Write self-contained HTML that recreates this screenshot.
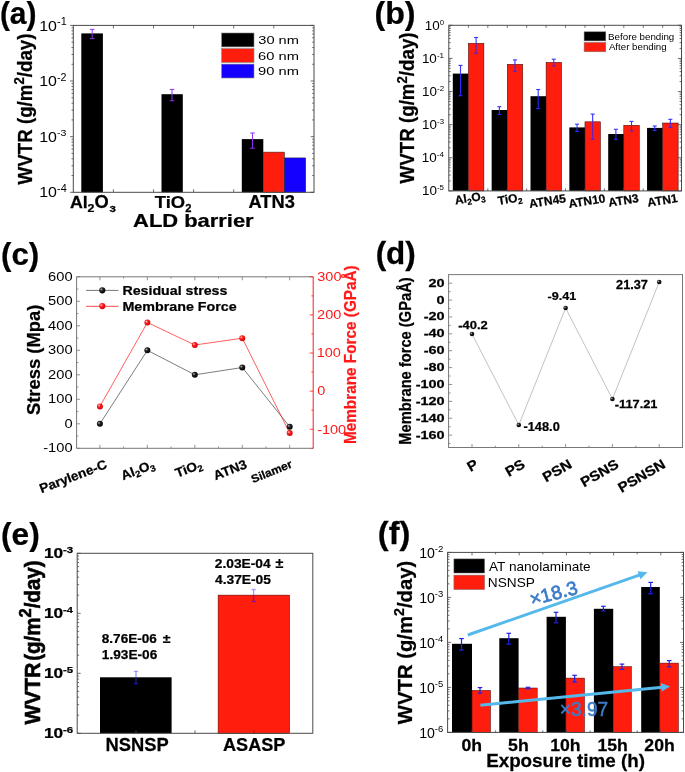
<!DOCTYPE html><html><head><meta charset="utf-8"><style>html,body{margin:0;padding:0;background:#fff}svg{display:block;will-change:transform}text{font-family:"Liberation Sans",sans-serif}</style></head><body>
<svg width="685" height="772" viewBox="0 0 685 772">
<defs><radialGradient id="gk" cx="35%" cy="35%" r="70%"><stop offset="0" stop-color="#bbb"/><stop offset="0.35" stop-color="#222"/><stop offset="1" stop-color="#000"/></radialGradient><radialGradient id="gr" cx="35%" cy="35%" r="70%"><stop offset="0" stop-color="#fcc"/><stop offset="0.35" stop-color="#f22"/><stop offset="1" stop-color="#c00"/></radialGradient></defs>
<rect width="685" height="772" fill="#fff"/>
<rect x="81.3" y="33.4" width="21.6" height="158.9" fill="#000"/>
<rect x="161.5" y="94.2" width="21.3" height="98.1" fill="#000"/>
<rect x="241.8" y="139.1" width="21.5" height="53.2" fill="#000"/>
<rect x="263.3" y="152.1" width="21.2" height="40.2" fill="#ff1e0e" stroke="#222" stroke-width="0.5"/>
<rect x="284.5" y="157.9" width="21.2" height="34.4" fill="#1400ff" stroke="#222" stroke-width="0.5"/>
<line x1="92.2" y1="29.4" x2="92.2" y2="38.6" stroke="#9130f0" stroke-width="1"/>
<line x1="89.9" y1="29.4" x2="94.5" y2="29.4" stroke="#9130f0" stroke-width="1"/>
<line x1="89.9" y1="38.6" x2="94.5" y2="38.6" stroke="#9130f0" stroke-width="1"/>
<line x1="172" y1="89.4" x2="172" y2="100.7" stroke="#9130f0" stroke-width="1"/>
<line x1="169.7" y1="89.4" x2="174.3" y2="89.4" stroke="#9130f0" stroke-width="1"/>
<line x1="169.7" y1="100.7" x2="174.3" y2="100.7" stroke="#9130f0" stroke-width="1"/>
<line x1="252.5" y1="133" x2="252.5" y2="148.2" stroke="#9130f0" stroke-width="1"/>
<line x1="250.2" y1="133" x2="254.8" y2="133" stroke="#9130f0" stroke-width="1"/>
<line x1="250.2" y1="148.2" x2="254.8" y2="148.2" stroke="#9130f0" stroke-width="1"/>
<rect x="73.3" y="25.4" width="240.7" height="166.9" fill="none" stroke="#4a4a4a" stroke-width="1"/>
<line x1="73.3" y1="25.4" x2="70" y2="25.4" stroke="#4a4a4a" stroke-width="0.8"/>
<line x1="73.3" y1="64.29" x2="71.5" y2="64.29" stroke="#4a4a4a" stroke-width="0.8"/>
<line x1="73.3" y1="54.49" x2="71.5" y2="54.49" stroke="#4a4a4a" stroke-width="0.8"/>
<line x1="73.3" y1="47.54" x2="71.5" y2="47.54" stroke="#4a4a4a" stroke-width="0.8"/>
<line x1="73.3" y1="42.15" x2="71.5" y2="42.15" stroke="#4a4a4a" stroke-width="0.8"/>
<line x1="73.3" y1="37.74" x2="71.5" y2="37.74" stroke="#4a4a4a" stroke-width="0.8"/>
<line x1="73.3" y1="34.02" x2="71.5" y2="34.02" stroke="#4a4a4a" stroke-width="0.8"/>
<line x1="73.3" y1="30.79" x2="71.5" y2="30.79" stroke="#4a4a4a" stroke-width="0.8"/>
<line x1="73.3" y1="27.95" x2="71.5" y2="27.95" stroke="#4a4a4a" stroke-width="0.8"/>
<line x1="73.3" y1="81.03" x2="70" y2="81.03" stroke="#4a4a4a" stroke-width="0.8"/>
<line x1="73.3" y1="119.92" x2="71.5" y2="119.92" stroke="#4a4a4a" stroke-width="0.8"/>
<line x1="73.3" y1="110.12" x2="71.5" y2="110.12" stroke="#4a4a4a" stroke-width="0.8"/>
<line x1="73.3" y1="103.17" x2="71.5" y2="103.17" stroke="#4a4a4a" stroke-width="0.8"/>
<line x1="73.3" y1="97.78" x2="71.5" y2="97.78" stroke="#4a4a4a" stroke-width="0.8"/>
<line x1="73.3" y1="93.38" x2="71.5" y2="93.38" stroke="#4a4a4a" stroke-width="0.8"/>
<line x1="73.3" y1="89.65" x2="71.5" y2="89.65" stroke="#4a4a4a" stroke-width="0.8"/>
<line x1="73.3" y1="86.42" x2="71.5" y2="86.42" stroke="#4a4a4a" stroke-width="0.8"/>
<line x1="73.3" y1="83.58" x2="71.5" y2="83.58" stroke="#4a4a4a" stroke-width="0.8"/>
<line x1="73.3" y1="136.67" x2="70" y2="136.67" stroke="#4a4a4a" stroke-width="0.8"/>
<line x1="73.3" y1="175.55" x2="71.5" y2="175.55" stroke="#4a4a4a" stroke-width="0.8"/>
<line x1="73.3" y1="165.76" x2="71.5" y2="165.76" stroke="#4a4a4a" stroke-width="0.8"/>
<line x1="73.3" y1="158.81" x2="71.5" y2="158.81" stroke="#4a4a4a" stroke-width="0.8"/>
<line x1="73.3" y1="153.41" x2="71.5" y2="153.41" stroke="#4a4a4a" stroke-width="0.8"/>
<line x1="73.3" y1="149.01" x2="71.5" y2="149.01" stroke="#4a4a4a" stroke-width="0.8"/>
<line x1="73.3" y1="145.28" x2="71.5" y2="145.28" stroke="#4a4a4a" stroke-width="0.8"/>
<line x1="73.3" y1="142.06" x2="71.5" y2="142.06" stroke="#4a4a4a" stroke-width="0.8"/>
<line x1="73.3" y1="139.21" x2="71.5" y2="139.21" stroke="#4a4a4a" stroke-width="0.8"/>
<line x1="73.3" y1="192.3" x2="70" y2="192.3" stroke="#4a4a4a" stroke-width="0.8"/>
<line x1="314" y1="25.4" x2="310.7" y2="25.4" stroke="#4a4a4a" stroke-width="0.8"/>
<line x1="314" y1="64.29" x2="312.2" y2="64.29" stroke="#4a4a4a" stroke-width="0.8"/>
<line x1="314" y1="54.49" x2="312.2" y2="54.49" stroke="#4a4a4a" stroke-width="0.8"/>
<line x1="314" y1="47.54" x2="312.2" y2="47.54" stroke="#4a4a4a" stroke-width="0.8"/>
<line x1="314" y1="42.15" x2="312.2" y2="42.15" stroke="#4a4a4a" stroke-width="0.8"/>
<line x1="314" y1="37.74" x2="312.2" y2="37.74" stroke="#4a4a4a" stroke-width="0.8"/>
<line x1="314" y1="34.02" x2="312.2" y2="34.02" stroke="#4a4a4a" stroke-width="0.8"/>
<line x1="314" y1="30.79" x2="312.2" y2="30.79" stroke="#4a4a4a" stroke-width="0.8"/>
<line x1="314" y1="27.95" x2="312.2" y2="27.95" stroke="#4a4a4a" stroke-width="0.8"/>
<line x1="314" y1="81.03" x2="310.7" y2="81.03" stroke="#4a4a4a" stroke-width="0.8"/>
<line x1="314" y1="119.92" x2="312.2" y2="119.92" stroke="#4a4a4a" stroke-width="0.8"/>
<line x1="314" y1="110.12" x2="312.2" y2="110.12" stroke="#4a4a4a" stroke-width="0.8"/>
<line x1="314" y1="103.17" x2="312.2" y2="103.17" stroke="#4a4a4a" stroke-width="0.8"/>
<line x1="314" y1="97.78" x2="312.2" y2="97.78" stroke="#4a4a4a" stroke-width="0.8"/>
<line x1="314" y1="93.38" x2="312.2" y2="93.38" stroke="#4a4a4a" stroke-width="0.8"/>
<line x1="314" y1="89.65" x2="312.2" y2="89.65" stroke="#4a4a4a" stroke-width="0.8"/>
<line x1="314" y1="86.42" x2="312.2" y2="86.42" stroke="#4a4a4a" stroke-width="0.8"/>
<line x1="314" y1="83.58" x2="312.2" y2="83.58" stroke="#4a4a4a" stroke-width="0.8"/>
<line x1="314" y1="136.67" x2="310.7" y2="136.67" stroke="#4a4a4a" stroke-width="0.8"/>
<line x1="314" y1="175.55" x2="312.2" y2="175.55" stroke="#4a4a4a" stroke-width="0.8"/>
<line x1="314" y1="165.76" x2="312.2" y2="165.76" stroke="#4a4a4a" stroke-width="0.8"/>
<line x1="314" y1="158.81" x2="312.2" y2="158.81" stroke="#4a4a4a" stroke-width="0.8"/>
<line x1="314" y1="153.41" x2="312.2" y2="153.41" stroke="#4a4a4a" stroke-width="0.8"/>
<line x1="314" y1="149.01" x2="312.2" y2="149.01" stroke="#4a4a4a" stroke-width="0.8"/>
<line x1="314" y1="145.28" x2="312.2" y2="145.28" stroke="#4a4a4a" stroke-width="0.8"/>
<line x1="314" y1="142.06" x2="312.2" y2="142.06" stroke="#4a4a4a" stroke-width="0.8"/>
<line x1="314" y1="139.21" x2="312.2" y2="139.21" stroke="#4a4a4a" stroke-width="0.8"/>
<line x1="314" y1="192.3" x2="310.7" y2="192.3" stroke="#4a4a4a" stroke-width="0.8"/>
<line x1="113.4" y1="192.3" x2="113.4" y2="189.3" stroke="#4a4a4a" stroke-width="0.8"/>
<line x1="113.4" y1="25.4" x2="113.4" y2="28.4" stroke="#4a4a4a" stroke-width="0.8"/>
<line x1="153.5" y1="192.3" x2="153.5" y2="189.3" stroke="#4a4a4a" stroke-width="0.8"/>
<line x1="153.5" y1="25.4" x2="153.5" y2="28.4" stroke="#4a4a4a" stroke-width="0.8"/>
<line x1="193.6" y1="192.3" x2="193.6" y2="189.3" stroke="#4a4a4a" stroke-width="0.8"/>
<line x1="193.6" y1="25.4" x2="193.6" y2="28.4" stroke="#4a4a4a" stroke-width="0.8"/>
<line x1="233.7" y1="192.3" x2="233.7" y2="189.3" stroke="#4a4a4a" stroke-width="0.8"/>
<line x1="233.7" y1="25.4" x2="233.7" y2="28.4" stroke="#4a4a4a" stroke-width="0.8"/>
<line x1="273.8" y1="192.3" x2="273.8" y2="189.3" stroke="#4a4a4a" stroke-width="0.8"/>
<line x1="273.8" y1="25.4" x2="273.8" y2="28.4" stroke="#4a4a4a" stroke-width="0.8"/>
<rect x="221.6" y="33" width="32.4" height="13.9" fill="#000" stroke="#888" stroke-width="0.6"/>
<text transform="translate(258.25 44.28) scale(1.2480 1)" font-size="11.73">30 nm</text>
<rect x="221.6" y="48.55" width="32.4" height="13.9" fill="#ff1e0e" stroke="#888" stroke-width="0.6"/>
<text transform="translate(258.06 59.83) scale(1.2538 1)" font-size="11.73">60 nm</text>
<rect x="221.6" y="64.1" width="32.4" height="13.9" fill="#1400ff" stroke="#888" stroke-width="0.6"/>
<text transform="translate(258.1 75.38) scale(1.2527 1)" font-size="11.73">90 nm</text>
<text transform="translate(39.2 30.55) scale(1.0740 1)" font-size="14.84">10</text>
<text transform="translate(57.01 25.2) scale(1.0740 1)" font-size="10.18">-1</text>
<text transform="translate(39.2 86.18) scale(1.0740 1)" font-size="14.84">10</text>
<text transform="translate(57.01 80.83) scale(1.0740 1)" font-size="10.04">-2</text>
<text transform="translate(39.2 141.82) scale(1.0740 1)" font-size="14.84">10</text>
<text transform="translate(57.02 136.37) scale(1.0740 1)" font-size="9.89">-3</text>
<text transform="translate(39.2 197.45) scale(1.0740 1)" font-size="14.84">10</text>
<text transform="translate(57.01 192.1) scale(1.0740 1)" font-size="10.18">-4</text>
<text transform="translate(69.96 207.8) scale(1.0318 1)" font-size="17.24" font-weight="bold" stroke="#000" stroke-width="0.25">Al</text>
<text transform="translate(87.46 212) scale(1.2391 1)" font-size="10.04" font-weight="bold" stroke="#000" stroke-width="0.25">2</text>
<text transform="translate(94.47 208.01) scale(0.9869 1)" font-size="18.52" font-weight="bold" stroke="#000" stroke-width="0.25">O</text>
<text transform="translate(109.44 211.88) scale(1.1621 1)" font-size="9.86" font-weight="bold" stroke="#000" stroke-width="0.25">3</text>
<text transform="translate(154.82 207.73) scale(1.0548 1)" font-size="17.41" font-weight="bold" stroke="#000" stroke-width="0.25">TiO</text>
<text transform="translate(185.21 212.4) scale(0.9637 1)" font-size="11.61" font-weight="bold" stroke="#000" stroke-width="0.25">2</text>
<text transform="translate(248.54 207.87) scale(0.9974 1)" font-size="18.31" font-weight="bold" stroke="#000" stroke-width="0.25">ATN3</text>
<text transform="translate(133.05 226.92) scale(1.1930 1)" font-size="18.37" font-weight="bold" stroke="#000" stroke-width="0.25">ALD barrier</text>
<text transform="translate(-0.1 24.31) scale(0.9726 1)" font-size="30.78" font-weight="bold" stroke="#000" stroke-width="0.25">(a)</text>
<text transform="translate(32 184.5) rotate(-90) scale(0.9410 1)" font-size="19.93" font-weight="bold" stroke="#000" stroke-width="0.25">WVTR (g/m<tspan font-size="70%" dy="-7.57">2</tspan><tspan dy="7.57">/day)</tspan></text>
<rect x="452.8" y="73.6" width="15.6" height="117.3" fill="#000"/>
<rect x="468.4" y="43.3" width="15.5" height="147.6" fill="#ff1e0e" stroke="#300" stroke-width="0.5"/>
<rect x="491.65" y="110" width="15.6" height="80.9" fill="#000"/>
<rect x="507.25" y="64.3" width="15.5" height="126.6" fill="#ff1e0e" stroke="#300" stroke-width="0.5"/>
<rect x="530.5" y="96.2" width="15.6" height="94.7" fill="#000"/>
<rect x="546.1" y="62.4" width="15.5" height="128.5" fill="#ff1e0e" stroke="#300" stroke-width="0.5"/>
<rect x="569.35" y="127.4" width="15.6" height="63.5" fill="#000"/>
<rect x="584.95" y="121.8" width="15.5" height="69.1" fill="#ff1e0e" stroke="#300" stroke-width="0.5"/>
<rect x="608.2" y="134" width="15.6" height="56.9" fill="#000"/>
<rect x="623.8" y="125.3" width="15.5" height="65.6" fill="#ff1e0e" stroke="#300" stroke-width="0.5"/>
<rect x="647.05" y="127.9" width="15.6" height="63" fill="#000"/>
<rect x="662.65" y="123" width="15.5" height="67.9" fill="#ff1e0e" stroke="#300" stroke-width="0.5"/>
<line x1="460.5" y1="65.4" x2="460.5" y2="73.6" stroke="#3232ff" stroke-width="1.1"/>
<line x1="458.5" y1="65.4" x2="462.5" y2="65.4" stroke="#3232ff" stroke-width="1.1"/>
<line x1="460.5" y1="73.6" x2="460.5" y2="95.7" stroke="#2a2aff" stroke-width="1.1"/>
<line x1="458.5" y1="95.7" x2="462.5" y2="95.7" stroke="#2a2aff" stroke-width="1.1"/>
<line x1="476.1" y1="37.5" x2="476.1" y2="43.3" stroke="#3232ff" stroke-width="1.1"/>
<line x1="474.1" y1="37.5" x2="478.1" y2="37.5" stroke="#3232ff" stroke-width="1.1"/>
<line x1="476.1" y1="43.3" x2="476.1" y2="53.3" stroke="#5a22cc" stroke-width="1.1"/>
<line x1="474.1" y1="53.3" x2="478.1" y2="53.3" stroke="#5a22cc" stroke-width="1.1"/>
<line x1="499.35" y1="106.7" x2="499.35" y2="110" stroke="#3232ff" stroke-width="1.1"/>
<line x1="497.35" y1="106.7" x2="501.35" y2="106.7" stroke="#3232ff" stroke-width="1.1"/>
<line x1="499.35" y1="110" x2="499.35" y2="114.4" stroke="#2a2aff" stroke-width="1.1"/>
<line x1="497.35" y1="114.4" x2="501.35" y2="114.4" stroke="#2a2aff" stroke-width="1.1"/>
<line x1="514.95" y1="59.9" x2="514.95" y2="64.3" stroke="#3232ff" stroke-width="1.1"/>
<line x1="512.95" y1="59.9" x2="516.95" y2="59.9" stroke="#3232ff" stroke-width="1.1"/>
<line x1="514.95" y1="64.3" x2="514.95" y2="71.3" stroke="#5a22cc" stroke-width="1.1"/>
<line x1="512.95" y1="71.3" x2="516.95" y2="71.3" stroke="#5a22cc" stroke-width="1.1"/>
<line x1="538.2" y1="89.5" x2="538.2" y2="96.2" stroke="#3232ff" stroke-width="1.1"/>
<line x1="536.2" y1="89.5" x2="540.2" y2="89.5" stroke="#3232ff" stroke-width="1.1"/>
<line x1="538.2" y1="96.2" x2="538.2" y2="108.6" stroke="#2a2aff" stroke-width="1.1"/>
<line x1="536.2" y1="108.6" x2="540.2" y2="108.6" stroke="#2a2aff" stroke-width="1.1"/>
<line x1="553.8" y1="59.2" x2="553.8" y2="62.4" stroke="#3232ff" stroke-width="1.1"/>
<line x1="551.8" y1="59.2" x2="555.8" y2="59.2" stroke="#3232ff" stroke-width="1.1"/>
<line x1="553.8" y1="62.4" x2="553.8" y2="65.9" stroke="#5a22cc" stroke-width="1.1"/>
<line x1="551.8" y1="65.9" x2="555.8" y2="65.9" stroke="#5a22cc" stroke-width="1.1"/>
<line x1="577.05" y1="124.2" x2="577.05" y2="127.4" stroke="#3232ff" stroke-width="1.1"/>
<line x1="575.05" y1="124.2" x2="579.05" y2="124.2" stroke="#3232ff" stroke-width="1.1"/>
<line x1="577.05" y1="127.4" x2="577.05" y2="131.4" stroke="#2a2aff" stroke-width="1.1"/>
<line x1="575.05" y1="131.4" x2="579.05" y2="131.4" stroke="#2a2aff" stroke-width="1.1"/>
<line x1="592.65" y1="114.1" x2="592.65" y2="121.8" stroke="#3232ff" stroke-width="1.1"/>
<line x1="590.65" y1="114.1" x2="594.65" y2="114.1" stroke="#3232ff" stroke-width="1.1"/>
<line x1="592.65" y1="121.8" x2="592.65" y2="139.3" stroke="#5a22cc" stroke-width="1.1"/>
<line x1="590.65" y1="139.3" x2="594.65" y2="139.3" stroke="#5a22cc" stroke-width="1.1"/>
<line x1="615.9" y1="129.3" x2="615.9" y2="134" stroke="#3232ff" stroke-width="1.1"/>
<line x1="613.9" y1="129.3" x2="617.9" y2="129.3" stroke="#3232ff" stroke-width="1.1"/>
<line x1="615.9" y1="134" x2="615.9" y2="139.3" stroke="#2a2aff" stroke-width="1.1"/>
<line x1="613.9" y1="139.3" x2="617.9" y2="139.3" stroke="#2a2aff" stroke-width="1.1"/>
<line x1="631.5" y1="121.4" x2="631.5" y2="125.3" stroke="#3232ff" stroke-width="1.1"/>
<line x1="629.5" y1="121.4" x2="633.5" y2="121.4" stroke="#3232ff" stroke-width="1.1"/>
<line x1="631.5" y1="125.3" x2="631.5" y2="130.9" stroke="#5a22cc" stroke-width="1.1"/>
<line x1="629.5" y1="130.9" x2="633.5" y2="130.9" stroke="#5a22cc" stroke-width="1.1"/>
<line x1="654.75" y1="126" x2="654.75" y2="127.9" stroke="#3232ff" stroke-width="1.1"/>
<line x1="652.75" y1="126" x2="656.75" y2="126" stroke="#3232ff" stroke-width="1.1"/>
<line x1="654.75" y1="127.9" x2="654.75" y2="130.4" stroke="#2a2aff" stroke-width="1.1"/>
<line x1="652.75" y1="130.4" x2="656.75" y2="130.4" stroke="#2a2aff" stroke-width="1.1"/>
<line x1="670.35" y1="119.3" x2="670.35" y2="123" stroke="#3232ff" stroke-width="1.1"/>
<line x1="668.35" y1="119.3" x2="672.35" y2="119.3" stroke="#3232ff" stroke-width="1.1"/>
<line x1="670.35" y1="123" x2="670.35" y2="127.4" stroke="#5a22cc" stroke-width="1.1"/>
<line x1="668.35" y1="127.4" x2="672.35" y2="127.4" stroke="#5a22cc" stroke-width="1.1"/>
<rect x="448.8" y="25.3" width="232.7" height="165.6" fill="none" stroke="#4a4a4a" stroke-width="1"/>
<line x1="448.8" y1="25.3" x2="452.4" y2="25.3" stroke="#4a4a4a" stroke-width="0.8"/>
<line x1="448.8" y1="48.45" x2="450.7" y2="48.45" stroke="#4a4a4a" stroke-width="0.8"/>
<line x1="448.8" y1="42.62" x2="450.7" y2="42.62" stroke="#4a4a4a" stroke-width="0.8"/>
<line x1="448.8" y1="38.48" x2="450.7" y2="38.48" stroke="#4a4a4a" stroke-width="0.8"/>
<line x1="448.8" y1="35.27" x2="450.7" y2="35.27" stroke="#4a4a4a" stroke-width="0.8"/>
<line x1="448.8" y1="32.65" x2="450.7" y2="32.65" stroke="#4a4a4a" stroke-width="0.8"/>
<line x1="448.8" y1="30.43" x2="450.7" y2="30.43" stroke="#4a4a4a" stroke-width="0.8"/>
<line x1="448.8" y1="28.51" x2="450.7" y2="28.51" stroke="#4a4a4a" stroke-width="0.8"/>
<line x1="448.8" y1="26.82" x2="450.7" y2="26.82" stroke="#4a4a4a" stroke-width="0.8"/>
<line x1="448.8" y1="58.42" x2="452.4" y2="58.42" stroke="#4a4a4a" stroke-width="0.8"/>
<line x1="448.8" y1="81.57" x2="450.7" y2="81.57" stroke="#4a4a4a" stroke-width="0.8"/>
<line x1="448.8" y1="75.74" x2="450.7" y2="75.74" stroke="#4a4a4a" stroke-width="0.8"/>
<line x1="448.8" y1="71.6" x2="450.7" y2="71.6" stroke="#4a4a4a" stroke-width="0.8"/>
<line x1="448.8" y1="68.39" x2="450.7" y2="68.39" stroke="#4a4a4a" stroke-width="0.8"/>
<line x1="448.8" y1="65.77" x2="450.7" y2="65.77" stroke="#4a4a4a" stroke-width="0.8"/>
<line x1="448.8" y1="63.55" x2="450.7" y2="63.55" stroke="#4a4a4a" stroke-width="0.8"/>
<line x1="448.8" y1="61.63" x2="450.7" y2="61.63" stroke="#4a4a4a" stroke-width="0.8"/>
<line x1="448.8" y1="59.94" x2="450.7" y2="59.94" stroke="#4a4a4a" stroke-width="0.8"/>
<line x1="448.8" y1="91.54" x2="452.4" y2="91.54" stroke="#4a4a4a" stroke-width="0.8"/>
<line x1="448.8" y1="114.69" x2="450.7" y2="114.69" stroke="#4a4a4a" stroke-width="0.8"/>
<line x1="448.8" y1="108.86" x2="450.7" y2="108.86" stroke="#4a4a4a" stroke-width="0.8"/>
<line x1="448.8" y1="104.72" x2="450.7" y2="104.72" stroke="#4a4a4a" stroke-width="0.8"/>
<line x1="448.8" y1="101.51" x2="450.7" y2="101.51" stroke="#4a4a4a" stroke-width="0.8"/>
<line x1="448.8" y1="98.89" x2="450.7" y2="98.89" stroke="#4a4a4a" stroke-width="0.8"/>
<line x1="448.8" y1="96.67" x2="450.7" y2="96.67" stroke="#4a4a4a" stroke-width="0.8"/>
<line x1="448.8" y1="94.75" x2="450.7" y2="94.75" stroke="#4a4a4a" stroke-width="0.8"/>
<line x1="448.8" y1="93.06" x2="450.7" y2="93.06" stroke="#4a4a4a" stroke-width="0.8"/>
<line x1="448.8" y1="124.66" x2="452.4" y2="124.66" stroke="#4a4a4a" stroke-width="0.8"/>
<line x1="448.8" y1="147.81" x2="450.7" y2="147.81" stroke="#4a4a4a" stroke-width="0.8"/>
<line x1="448.8" y1="141.98" x2="450.7" y2="141.98" stroke="#4a4a4a" stroke-width="0.8"/>
<line x1="448.8" y1="137.84" x2="450.7" y2="137.84" stroke="#4a4a4a" stroke-width="0.8"/>
<line x1="448.8" y1="134.63" x2="450.7" y2="134.63" stroke="#4a4a4a" stroke-width="0.8"/>
<line x1="448.8" y1="132.01" x2="450.7" y2="132.01" stroke="#4a4a4a" stroke-width="0.8"/>
<line x1="448.8" y1="129.79" x2="450.7" y2="129.79" stroke="#4a4a4a" stroke-width="0.8"/>
<line x1="448.8" y1="127.87" x2="450.7" y2="127.87" stroke="#4a4a4a" stroke-width="0.8"/>
<line x1="448.8" y1="126.18" x2="450.7" y2="126.18" stroke="#4a4a4a" stroke-width="0.8"/>
<line x1="448.8" y1="157.78" x2="452.4" y2="157.78" stroke="#4a4a4a" stroke-width="0.8"/>
<line x1="448.8" y1="180.93" x2="450.7" y2="180.93" stroke="#4a4a4a" stroke-width="0.8"/>
<line x1="448.8" y1="175.1" x2="450.7" y2="175.1" stroke="#4a4a4a" stroke-width="0.8"/>
<line x1="448.8" y1="170.96" x2="450.7" y2="170.96" stroke="#4a4a4a" stroke-width="0.8"/>
<line x1="448.8" y1="167.75" x2="450.7" y2="167.75" stroke="#4a4a4a" stroke-width="0.8"/>
<line x1="448.8" y1="165.13" x2="450.7" y2="165.13" stroke="#4a4a4a" stroke-width="0.8"/>
<line x1="448.8" y1="162.91" x2="450.7" y2="162.91" stroke="#4a4a4a" stroke-width="0.8"/>
<line x1="448.8" y1="160.99" x2="450.7" y2="160.99" stroke="#4a4a4a" stroke-width="0.8"/>
<line x1="448.8" y1="159.3" x2="450.7" y2="159.3" stroke="#4a4a4a" stroke-width="0.8"/>
<line x1="448.8" y1="190.9" x2="452.4" y2="190.9" stroke="#4a4a4a" stroke-width="0.8"/>
<line x1="681.5" y1="25.3" x2="677.9" y2="25.3" stroke="#4a4a4a" stroke-width="0.8"/>
<line x1="681.5" y1="48.45" x2="679.6" y2="48.45" stroke="#4a4a4a" stroke-width="0.8"/>
<line x1="681.5" y1="42.62" x2="679.6" y2="42.62" stroke="#4a4a4a" stroke-width="0.8"/>
<line x1="681.5" y1="38.48" x2="679.6" y2="38.48" stroke="#4a4a4a" stroke-width="0.8"/>
<line x1="681.5" y1="35.27" x2="679.6" y2="35.27" stroke="#4a4a4a" stroke-width="0.8"/>
<line x1="681.5" y1="32.65" x2="679.6" y2="32.65" stroke="#4a4a4a" stroke-width="0.8"/>
<line x1="681.5" y1="30.43" x2="679.6" y2="30.43" stroke="#4a4a4a" stroke-width="0.8"/>
<line x1="681.5" y1="28.51" x2="679.6" y2="28.51" stroke="#4a4a4a" stroke-width="0.8"/>
<line x1="681.5" y1="26.82" x2="679.6" y2="26.82" stroke="#4a4a4a" stroke-width="0.8"/>
<line x1="681.5" y1="58.42" x2="677.9" y2="58.42" stroke="#4a4a4a" stroke-width="0.8"/>
<line x1="681.5" y1="81.57" x2="679.6" y2="81.57" stroke="#4a4a4a" stroke-width="0.8"/>
<line x1="681.5" y1="75.74" x2="679.6" y2="75.74" stroke="#4a4a4a" stroke-width="0.8"/>
<line x1="681.5" y1="71.6" x2="679.6" y2="71.6" stroke="#4a4a4a" stroke-width="0.8"/>
<line x1="681.5" y1="68.39" x2="679.6" y2="68.39" stroke="#4a4a4a" stroke-width="0.8"/>
<line x1="681.5" y1="65.77" x2="679.6" y2="65.77" stroke="#4a4a4a" stroke-width="0.8"/>
<line x1="681.5" y1="63.55" x2="679.6" y2="63.55" stroke="#4a4a4a" stroke-width="0.8"/>
<line x1="681.5" y1="61.63" x2="679.6" y2="61.63" stroke="#4a4a4a" stroke-width="0.8"/>
<line x1="681.5" y1="59.94" x2="679.6" y2="59.94" stroke="#4a4a4a" stroke-width="0.8"/>
<line x1="681.5" y1="91.54" x2="677.9" y2="91.54" stroke="#4a4a4a" stroke-width="0.8"/>
<line x1="681.5" y1="114.69" x2="679.6" y2="114.69" stroke="#4a4a4a" stroke-width="0.8"/>
<line x1="681.5" y1="108.86" x2="679.6" y2="108.86" stroke="#4a4a4a" stroke-width="0.8"/>
<line x1="681.5" y1="104.72" x2="679.6" y2="104.72" stroke="#4a4a4a" stroke-width="0.8"/>
<line x1="681.5" y1="101.51" x2="679.6" y2="101.51" stroke="#4a4a4a" stroke-width="0.8"/>
<line x1="681.5" y1="98.89" x2="679.6" y2="98.89" stroke="#4a4a4a" stroke-width="0.8"/>
<line x1="681.5" y1="96.67" x2="679.6" y2="96.67" stroke="#4a4a4a" stroke-width="0.8"/>
<line x1="681.5" y1="94.75" x2="679.6" y2="94.75" stroke="#4a4a4a" stroke-width="0.8"/>
<line x1="681.5" y1="93.06" x2="679.6" y2="93.06" stroke="#4a4a4a" stroke-width="0.8"/>
<line x1="681.5" y1="124.66" x2="677.9" y2="124.66" stroke="#4a4a4a" stroke-width="0.8"/>
<line x1="681.5" y1="147.81" x2="679.6" y2="147.81" stroke="#4a4a4a" stroke-width="0.8"/>
<line x1="681.5" y1="141.98" x2="679.6" y2="141.98" stroke="#4a4a4a" stroke-width="0.8"/>
<line x1="681.5" y1="137.84" x2="679.6" y2="137.84" stroke="#4a4a4a" stroke-width="0.8"/>
<line x1="681.5" y1="134.63" x2="679.6" y2="134.63" stroke="#4a4a4a" stroke-width="0.8"/>
<line x1="681.5" y1="132.01" x2="679.6" y2="132.01" stroke="#4a4a4a" stroke-width="0.8"/>
<line x1="681.5" y1="129.79" x2="679.6" y2="129.79" stroke="#4a4a4a" stroke-width="0.8"/>
<line x1="681.5" y1="127.87" x2="679.6" y2="127.87" stroke="#4a4a4a" stroke-width="0.8"/>
<line x1="681.5" y1="126.18" x2="679.6" y2="126.18" stroke="#4a4a4a" stroke-width="0.8"/>
<line x1="681.5" y1="157.78" x2="677.9" y2="157.78" stroke="#4a4a4a" stroke-width="0.8"/>
<line x1="681.5" y1="180.93" x2="679.6" y2="180.93" stroke="#4a4a4a" stroke-width="0.8"/>
<line x1="681.5" y1="175.1" x2="679.6" y2="175.1" stroke="#4a4a4a" stroke-width="0.8"/>
<line x1="681.5" y1="170.96" x2="679.6" y2="170.96" stroke="#4a4a4a" stroke-width="0.8"/>
<line x1="681.5" y1="167.75" x2="679.6" y2="167.75" stroke="#4a4a4a" stroke-width="0.8"/>
<line x1="681.5" y1="165.13" x2="679.6" y2="165.13" stroke="#4a4a4a" stroke-width="0.8"/>
<line x1="681.5" y1="162.91" x2="679.6" y2="162.91" stroke="#4a4a4a" stroke-width="0.8"/>
<line x1="681.5" y1="160.99" x2="679.6" y2="160.99" stroke="#4a4a4a" stroke-width="0.8"/>
<line x1="681.5" y1="159.3" x2="679.6" y2="159.3" stroke="#4a4a4a" stroke-width="0.8"/>
<line x1="681.5" y1="190.9" x2="677.9" y2="190.9" stroke="#4a4a4a" stroke-width="0.8"/>
<line x1="468.4" y1="190.9" x2="468.4" y2="188.4" stroke="#4a4a4a" stroke-width="0.8"/>
<line x1="468.4" y1="25.3" x2="468.4" y2="27.8" stroke="#4a4a4a" stroke-width="0.8"/>
<line x1="487.82" y1="190.9" x2="487.82" y2="188.4" stroke="#4a4a4a" stroke-width="0.8"/>
<line x1="487.82" y1="25.3" x2="487.82" y2="27.8" stroke="#4a4a4a" stroke-width="0.8"/>
<line x1="507.25" y1="190.9" x2="507.25" y2="188.4" stroke="#4a4a4a" stroke-width="0.8"/>
<line x1="507.25" y1="25.3" x2="507.25" y2="27.8" stroke="#4a4a4a" stroke-width="0.8"/>
<line x1="526.67" y1="190.9" x2="526.67" y2="188.4" stroke="#4a4a4a" stroke-width="0.8"/>
<line x1="526.67" y1="25.3" x2="526.67" y2="27.8" stroke="#4a4a4a" stroke-width="0.8"/>
<line x1="546.1" y1="190.9" x2="546.1" y2="188.4" stroke="#4a4a4a" stroke-width="0.8"/>
<line x1="546.1" y1="25.3" x2="546.1" y2="27.8" stroke="#4a4a4a" stroke-width="0.8"/>
<line x1="565.52" y1="190.9" x2="565.52" y2="188.4" stroke="#4a4a4a" stroke-width="0.8"/>
<line x1="565.52" y1="25.3" x2="565.52" y2="27.8" stroke="#4a4a4a" stroke-width="0.8"/>
<line x1="584.95" y1="190.9" x2="584.95" y2="188.4" stroke="#4a4a4a" stroke-width="0.8"/>
<line x1="584.95" y1="25.3" x2="584.95" y2="27.8" stroke="#4a4a4a" stroke-width="0.8"/>
<line x1="604.38" y1="190.9" x2="604.38" y2="188.4" stroke="#4a4a4a" stroke-width="0.8"/>
<line x1="604.38" y1="25.3" x2="604.38" y2="27.8" stroke="#4a4a4a" stroke-width="0.8"/>
<line x1="623.8" y1="190.9" x2="623.8" y2="188.4" stroke="#4a4a4a" stroke-width="0.8"/>
<line x1="623.8" y1="25.3" x2="623.8" y2="27.8" stroke="#4a4a4a" stroke-width="0.8"/>
<line x1="643.23" y1="190.9" x2="643.23" y2="188.4" stroke="#4a4a4a" stroke-width="0.8"/>
<line x1="643.23" y1="25.3" x2="643.23" y2="27.8" stroke="#4a4a4a" stroke-width="0.8"/>
<line x1="662.65" y1="190.9" x2="662.65" y2="188.4" stroke="#4a4a4a" stroke-width="0.8"/>
<line x1="662.65" y1="25.3" x2="662.65" y2="27.8" stroke="#4a4a4a" stroke-width="0.8"/>
<rect x="584.1" y="31.8" width="21.7" height="9.1" fill="#000" stroke="#777" stroke-width="0.5"/>
<rect x="584.1" y="42.4" width="21.7" height="9.4" fill="#ff1e0e" stroke="#777" stroke-width="0.5"/>
<text transform="translate(608.09 39.52) scale(1.1380 1)" font-size="8.58">Before bending</text>
<text transform="translate(608.88 49.94) scale(1.1478 1)" font-size="8.47">After bending</text>
<text transform="translate(439.77 24.73) scale(1.0800 1)" font-size="7.21">0</text>
<text transform="translate(424.68 29.87) scale(1.0444 1)" font-size="12.86">10</text>
<text transform="translate(436.95 57.92) scale(1.0800 1)" font-size="7.42">-1</text>
<text transform="translate(421.9 62.99) scale(1.0444 1)" font-size="12.86">10</text>
<text transform="translate(437.06 91.04) scale(1.0800 1)" font-size="7.31">-2</text>
<text transform="translate(422.01 96.11) scale(1.0444 1)" font-size="12.86">10</text>
<text transform="translate(437.1 124.09) scale(1.0800 1)" font-size="7.21">-3</text>
<text transform="translate(422.04 129.23) scale(1.0444 1)" font-size="12.86">10</text>
<text transform="translate(436.78 157.28) scale(1.0800 1)" font-size="7.42">-4</text>
<text transform="translate(421.73 162.35) scale(1.0444 1)" font-size="12.86">10</text>
<text transform="translate(436.98 190.33) scale(1.0800 1)" font-size="7.31">-5</text>
<text transform="translate(421.93 195.47) scale(1.0444 1)" font-size="12.86">10</text>
<text transform="translate(470.6 202) rotate(-9)" font-size="12" font-weight="bold" text-anchor="middle" stroke="#000" stroke-width="0.25">Al<tspan font-size="70%" dy="2.4">2</tspan><tspan dy="-2.4">O</tspan><tspan font-size="70%" dy="2.4">3</tspan></text>
<text transform="translate(510.6 203) rotate(-9)" font-size="12" font-weight="bold" text-anchor="middle" stroke="#000" stroke-width="0.25">TiO<tspan font-size="70%" dy="2.4">2</tspan></text>
<text transform="translate(548 205) rotate(-9)" font-size="12" font-weight="bold" text-anchor="middle" stroke="#000" stroke-width="0.25">ATN45</text>
<text transform="translate(587.5 205) rotate(-9)" font-size="12" font-weight="bold" text-anchor="middle" stroke="#000" stroke-width="0.25">ATN10</text>
<text transform="translate(624 204.4) rotate(-9)" font-size="12" font-weight="bold" text-anchor="middle" stroke="#000" stroke-width="0.25">ATN3</text>
<text transform="translate(663 204.4) rotate(-9)" font-size="12" font-weight="bold" text-anchor="middle" stroke="#000" stroke-width="0.25">ATN1</text>
<text transform="translate(374.49 23.94) scale(1.0174 1)" font-size="31.64" font-weight="bold" stroke="#000" stroke-width="0.25">(b)</text>
<text transform="translate(414 183.4) rotate(-90) scale(0.9549 1)" font-size="19.64" font-weight="bold" stroke="#000" stroke-width="0.25">WVTR (g/m<tspan font-size="70%" dy="-7.46">2</tspan><tspan dy="7.46">/day)</tspan></text>
<line x1="76.6" y1="276.8" x2="313.2" y2="276.8" stroke="#777" stroke-width="1"/>
<line x1="76.6" y1="448.3" x2="313.2" y2="448.3" stroke="#777" stroke-width="1"/>
<line x1="76.6" y1="276.8" x2="76.6" y2="448.3" stroke="#777" stroke-width="1"/>
<line x1="313.2" y1="276.8" x2="313.2" y2="448.3" stroke="#ff1a1a" stroke-width="1"/>
<line x1="76.6" y1="448.3" x2="80.1" y2="448.3" stroke="#777" stroke-width="0.8"/>
<line x1="76.6" y1="436.05" x2="78.4" y2="436.05" stroke="#777" stroke-width="0.8"/>
<line x1="76.6" y1="423.8" x2="80.1" y2="423.8" stroke="#777" stroke-width="0.8"/>
<line x1="76.6" y1="411.55" x2="78.4" y2="411.55" stroke="#777" stroke-width="0.8"/>
<line x1="76.6" y1="399.3" x2="80.1" y2="399.3" stroke="#777" stroke-width="0.8"/>
<line x1="76.6" y1="387.05" x2="78.4" y2="387.05" stroke="#777" stroke-width="0.8"/>
<line x1="76.6" y1="374.8" x2="80.1" y2="374.8" stroke="#777" stroke-width="0.8"/>
<line x1="76.6" y1="362.55" x2="78.4" y2="362.55" stroke="#777" stroke-width="0.8"/>
<line x1="76.6" y1="350.3" x2="80.1" y2="350.3" stroke="#777" stroke-width="0.8"/>
<line x1="76.6" y1="338.05" x2="78.4" y2="338.05" stroke="#777" stroke-width="0.8"/>
<line x1="76.6" y1="325.8" x2="80.1" y2="325.8" stroke="#777" stroke-width="0.8"/>
<line x1="76.6" y1="313.55" x2="78.4" y2="313.55" stroke="#777" stroke-width="0.8"/>
<line x1="76.6" y1="301.3" x2="80.1" y2="301.3" stroke="#777" stroke-width="0.8"/>
<line x1="76.6" y1="289.05" x2="78.4" y2="289.05" stroke="#777" stroke-width="0.8"/>
<line x1="76.6" y1="276.8" x2="80.1" y2="276.8" stroke="#777" stroke-width="0.8"/>
<line x1="313.2" y1="448.3" x2="311.4" y2="448.3" stroke="#ff1a1a" stroke-width="0.8"/>
<line x1="313.2" y1="429.24" x2="309.7" y2="429.24" stroke="#ff1a1a" stroke-width="0.8"/>
<line x1="313.2" y1="410.19" x2="311.4" y2="410.19" stroke="#ff1a1a" stroke-width="0.8"/>
<line x1="313.2" y1="391.13" x2="309.7" y2="391.13" stroke="#ff1a1a" stroke-width="0.8"/>
<line x1="313.2" y1="372.08" x2="311.4" y2="372.08" stroke="#ff1a1a" stroke-width="0.8"/>
<line x1="313.2" y1="353.02" x2="309.7" y2="353.02" stroke="#ff1a1a" stroke-width="0.8"/>
<line x1="313.2" y1="333.97" x2="311.4" y2="333.97" stroke="#ff1a1a" stroke-width="0.8"/>
<line x1="313.2" y1="314.91" x2="309.7" y2="314.91" stroke="#ff1a1a" stroke-width="0.8"/>
<line x1="313.2" y1="295.86" x2="311.4" y2="295.86" stroke="#ff1a1a" stroke-width="0.8"/>
<line x1="313.2" y1="276.8" x2="309.7" y2="276.8" stroke="#ff1a1a" stroke-width="0.8"/>
<line x1="99.9" y1="448.3" x2="99.9" y2="444.8" stroke="#777" stroke-width="0.8"/>
<line x1="99.9" y1="276.8" x2="99.9" y2="280.3" stroke="#777" stroke-width="0.8"/>
<line x1="123.62" y1="448.3" x2="123.62" y2="446.5" stroke="#777" stroke-width="0.8"/>
<line x1="123.62" y1="276.8" x2="123.62" y2="278.6" stroke="#777" stroke-width="0.8"/>
<line x1="147.35" y1="448.3" x2="147.35" y2="444.8" stroke="#777" stroke-width="0.8"/>
<line x1="147.35" y1="276.8" x2="147.35" y2="280.3" stroke="#777" stroke-width="0.8"/>
<line x1="171.08" y1="448.3" x2="171.08" y2="446.5" stroke="#777" stroke-width="0.8"/>
<line x1="171.08" y1="276.8" x2="171.08" y2="278.6" stroke="#777" stroke-width="0.8"/>
<line x1="194.8" y1="448.3" x2="194.8" y2="444.8" stroke="#777" stroke-width="0.8"/>
<line x1="194.8" y1="276.8" x2="194.8" y2="280.3" stroke="#777" stroke-width="0.8"/>
<line x1="218.53" y1="448.3" x2="218.53" y2="446.5" stroke="#777" stroke-width="0.8"/>
<line x1="218.53" y1="276.8" x2="218.53" y2="278.6" stroke="#777" stroke-width="0.8"/>
<line x1="242.25" y1="448.3" x2="242.25" y2="444.8" stroke="#777" stroke-width="0.8"/>
<line x1="242.25" y1="276.8" x2="242.25" y2="280.3" stroke="#777" stroke-width="0.8"/>
<line x1="265.98" y1="448.3" x2="265.98" y2="446.5" stroke="#777" stroke-width="0.8"/>
<line x1="265.98" y1="276.8" x2="265.98" y2="278.6" stroke="#777" stroke-width="0.8"/>
<line x1="289.7" y1="448.3" x2="289.7" y2="444.8" stroke="#777" stroke-width="0.8"/>
<line x1="289.7" y1="276.8" x2="289.7" y2="280.3" stroke="#777" stroke-width="0.8"/>
<polyline points="99.9,423.8 147.4,350.3 194.8,374.8 242.3,367.5 289.7,426.7" fill="none" stroke="#444" stroke-width="0.7"/>
<polyline points="99.9,406.4 147.4,322.5 194.8,345.0 242.3,338.2 289.7,433.1" fill="none" stroke="#ff1a1a" stroke-width="0.7"/>
<circle cx="99.9" cy="406.38" r="3" fill="url(#gr)"/>
<circle cx="99.9" cy="423.8" r="3" fill="url(#gk)"/>
<circle cx="147.35" cy="322.53" r="3" fill="url(#gr)"/>
<circle cx="147.35" cy="350.3" r="3" fill="url(#gk)"/>
<circle cx="194.8" cy="345.02" r="3" fill="url(#gr)"/>
<circle cx="194.8" cy="374.8" r="3" fill="url(#gk)"/>
<circle cx="242.25" cy="338.16" r="3" fill="url(#gr)"/>
<circle cx="242.25" cy="367.45" r="3" fill="url(#gk)"/>
<circle cx="289.7" cy="433.06" r="3" fill="url(#gr)"/>
<circle cx="289.7" cy="426.74" r="3" fill="url(#gk)"/>
<line x1="86.1" y1="290.4" x2="118.5" y2="290.4" stroke="#555" stroke-width="0.8"/>
<circle cx="102.3" cy="290.3" r="3.1" fill="url(#gk)"/>
<line x1="86.1" y1="306.3" x2="118.5" y2="306.3" stroke="#ff1a1a" stroke-width="0.8"/>
<circle cx="102.3" cy="306.1" r="3.1" fill="url(#gr)"/>
<text transform="translate(122.44 295.26) scale(1.0447 1)" font-size="13.6" font-weight="bold" stroke="#000" stroke-width="0.25">Residual stress</text>
<text transform="translate(122.44 310.86) scale(1.0505 1)" font-size="13.6" font-weight="bold" stroke="#000" stroke-width="0.25">Membrane Force</text>
<text transform="translate(43.24 452.46) scale(1.0800 1)" font-size="13.57">-100</text>
<text transform="translate(64.42 427.96) scale(1.0800 1)" font-size="13.57">0</text>
<text transform="translate(48.11 403.46) scale(1.0800 1)" font-size="13.57">100</text>
<text transform="translate(48.11 378.96) scale(1.0800 1)" font-size="13.57">200</text>
<text transform="translate(48.11 354.46) scale(1.0800 1)" font-size="13.57">300</text>
<text transform="translate(48.11 329.96) scale(1.0800 1)" font-size="13.57">400</text>
<text transform="translate(48.11 305.46) scale(1.0800 1)" font-size="13.57">500</text>
<text transform="translate(48.11 280.96) scale(1.0800 1)" font-size="13.57">600</text>
<text transform="translate(317.15 433.51) scale(1.0800 1)" font-size="13.43" fill="#ff1a1a">-100</text>
<text transform="translate(317.22 395.4) scale(1.0800 1)" font-size="13.43" fill="#ff1a1a">0</text>
<text transform="translate(316.71 357.29) scale(1.0800 1)" font-size="13.43" fill="#ff1a1a">100</text>
<text transform="translate(317.07 319.18) scale(1.0800 1)" font-size="13.43" fill="#ff1a1a">200</text>
<text transform="translate(317.26 281.07) scale(1.0800 1)" font-size="13.43" fill="#ff1a1a">300</text>
<text transform="translate(107.9 467.8) rotate(-21) scale(1.0500 1)" font-size="13" font-weight="bold" text-anchor="end" stroke="#000" stroke-width="0.25">Parylene-C</text>
<text transform="translate(155.65 467.8) rotate(-21) scale(1.0500 1)" font-size="13" font-weight="bold" text-anchor="end" stroke="#000" stroke-width="0.25">Al<tspan font-size="70%" dy="2.6">2</tspan><tspan dy="-2.6">O</tspan><tspan font-size="70%" dy="2.6">3</tspan></text>
<text transform="translate(203.1 467.8) rotate(-21) scale(1.0500 1)" font-size="13" font-weight="bold" text-anchor="end" stroke="#000" stroke-width="0.25">TiO<tspan font-size="70%" dy="2.6">2</tspan></text>
<text transform="translate(247.85 467.8) rotate(-21) scale(1.0500 1)" font-size="13" font-weight="bold" text-anchor="end" stroke="#000" stroke-width="0.25">ATN3</text>
<text transform="translate(293.1 467) rotate(-22) scale(1.0500 1)" font-size="11.4" font-weight="bold" text-anchor="end" stroke="#000" stroke-width="0.25">Silamer</text>
<text transform="translate(1.04 264.57) scale(0.9785 1)" font-size="31.96" font-weight="bold" stroke="#000" stroke-width="0.25">(c)</text>
<text transform="translate(39.7 415.05) rotate(-90) scale(0.9598 1)" font-size="19.2" font-weight="bold" stroke="#000" stroke-width="0.25">Stress (Mpa)</text>
<text transform="translate(356.2 444.03) rotate(-90) scale(0.9245 1)" font-size="16.58" font-weight="bold" fill="#ff1a1a" stroke="#ff1a1a" stroke-width="0.25">Membrane Force (GPaÅ)</text>
<rect x="448.6" y="274.6" width="233.9" height="172.9" fill="none" stroke="#777" stroke-width="1"/>
<line x1="448.6" y1="443.56" x2="450.6" y2="443.56" stroke="#777" stroke-width="0.8"/>
<line x1="448.6" y1="435.12" x2="452.2" y2="435.12" stroke="#777" stroke-width="0.8"/>
<line x1="448.6" y1="426.68" x2="450.6" y2="426.68" stroke="#777" stroke-width="0.8"/>
<line x1="448.6" y1="418.24" x2="452.2" y2="418.24" stroke="#777" stroke-width="0.8"/>
<line x1="448.6" y1="409.8" x2="450.6" y2="409.8" stroke="#777" stroke-width="0.8"/>
<line x1="448.6" y1="401.36" x2="452.2" y2="401.36" stroke="#777" stroke-width="0.8"/>
<line x1="448.6" y1="392.92" x2="450.6" y2="392.92" stroke="#777" stroke-width="0.8"/>
<line x1="448.6" y1="384.48" x2="452.2" y2="384.48" stroke="#777" stroke-width="0.8"/>
<line x1="448.6" y1="376.04" x2="450.6" y2="376.04" stroke="#777" stroke-width="0.8"/>
<line x1="448.6" y1="367.6" x2="452.2" y2="367.6" stroke="#777" stroke-width="0.8"/>
<line x1="448.6" y1="359.16" x2="450.6" y2="359.16" stroke="#777" stroke-width="0.8"/>
<line x1="448.6" y1="350.72" x2="452.2" y2="350.72" stroke="#777" stroke-width="0.8"/>
<line x1="448.6" y1="342.28" x2="450.6" y2="342.28" stroke="#777" stroke-width="0.8"/>
<line x1="448.6" y1="333.84" x2="452.2" y2="333.84" stroke="#777" stroke-width="0.8"/>
<line x1="448.6" y1="325.4" x2="450.6" y2="325.4" stroke="#777" stroke-width="0.8"/>
<line x1="448.6" y1="316.96" x2="452.2" y2="316.96" stroke="#777" stroke-width="0.8"/>
<line x1="448.6" y1="308.52" x2="450.6" y2="308.52" stroke="#777" stroke-width="0.8"/>
<line x1="448.6" y1="300.08" x2="452.2" y2="300.08" stroke="#777" stroke-width="0.8"/>
<line x1="448.6" y1="291.64" x2="450.6" y2="291.64" stroke="#777" stroke-width="0.8"/>
<line x1="448.6" y1="283.2" x2="452.2" y2="283.2" stroke="#777" stroke-width="0.8"/>
<line x1="472" y1="447.5" x2="472" y2="444" stroke="#777" stroke-width="0.8"/>
<line x1="495.4" y1="447.5" x2="495.4" y2="445.7" stroke="#777" stroke-width="0.8"/>
<line x1="518.8" y1="447.5" x2="518.8" y2="444" stroke="#777" stroke-width="0.8"/>
<line x1="542.2" y1="447.5" x2="542.2" y2="445.7" stroke="#777" stroke-width="0.8"/>
<line x1="565.6" y1="447.5" x2="565.6" y2="444" stroke="#777" stroke-width="0.8"/>
<line x1="589" y1="447.5" x2="589" y2="445.7" stroke="#777" stroke-width="0.8"/>
<line x1="612.4" y1="447.5" x2="612.4" y2="444" stroke="#777" stroke-width="0.8"/>
<line x1="635.8" y1="447.5" x2="635.8" y2="445.7" stroke="#777" stroke-width="0.8"/>
<line x1="659.2" y1="447.5" x2="659.2" y2="444" stroke="#777" stroke-width="0.8"/>
<polyline points="472.0,334.0 518.8,425.0 565.6,308.0 612.4,399.0 659.2,282.0" fill="none" stroke="#999" stroke-width="0.6"/>
<circle cx="472" cy="334.01" r="2.3" fill="url(#gk)"/>
<circle cx="518.8" cy="424.99" r="2.3" fill="url(#gk)"/>
<circle cx="565.6" cy="308.02" r="2.3" fill="url(#gk)"/>
<circle cx="612.4" cy="399.01" r="2.3" fill="url(#gk)"/>
<circle cx="659.2" cy="282.04" r="2.3" fill="url(#gk)"/>
<text transform="translate(458.28 329.48) scale(1.1177 1)" font-size="11.59" font-weight="bold" stroke="#000" stroke-width="0.25">-40.2</text>
<text transform="translate(523.49 431.27) scale(1.0072 1)" font-size="12.72" font-weight="bold" stroke="#000" stroke-width="0.25">-148.0</text>
<text transform="translate(547.5 300.49) scale(1.1165 1)" font-size="11.31" font-weight="bold" stroke="#000" stroke-width="0.25">-9.41</text>
<text transform="translate(614.69 408.4) scale(1.0908 1)" font-size="11.76" font-weight="bold" stroke="#000" stroke-width="0.25">-117.21</text>
<text transform="translate(616.05 289.05) scale(1.0399 1)" font-size="12.25" font-weight="bold" stroke="#000" stroke-width="0.25">21.37</text>
<text transform="translate(415.63 438.61) scale(1.2800 1)" font-size="11.31" font-weight="bold" stroke="#000" stroke-width="0.25">-160</text>
<text transform="translate(415.63 421.73) scale(1.2800 1)" font-size="11.31" font-weight="bold" stroke="#000" stroke-width="0.25">-140</text>
<text transform="translate(415.63 404.85) scale(1.2800 1)" font-size="11.31" font-weight="bold" stroke="#000" stroke-width="0.25">-120</text>
<text transform="translate(415.63 387.97) scale(1.2800 1)" font-size="11.31" font-weight="bold" stroke="#000" stroke-width="0.25">-100</text>
<text transform="translate(423.66 371.09) scale(1.2800 1)" font-size="11.31" font-weight="bold" stroke="#000" stroke-width="0.25">-80</text>
<text transform="translate(423.66 354.21) scale(1.2800 1)" font-size="11.31" font-weight="bold" stroke="#000" stroke-width="0.25">-60</text>
<text transform="translate(423.66 337.33) scale(1.2800 1)" font-size="11.31" font-weight="bold" stroke="#000" stroke-width="0.25">-40</text>
<text transform="translate(423.66 320.45) scale(1.2800 1)" font-size="11.31" font-weight="bold" stroke="#000" stroke-width="0.25">-20</text>
<text transform="translate(436.55 303.57) scale(1.2800 1)" font-size="11.31" font-weight="bold" stroke="#000" stroke-width="0.25">0</text>
<text transform="translate(428.51 286.69) scale(1.2800 1)" font-size="11.31" font-weight="bold" stroke="#000" stroke-width="0.25">20</text>
<text transform="translate(479.3 467) rotate(-30) scale(1.0800 1)" font-size="14" font-weight="bold" text-anchor="end" stroke="#000" stroke-width="0.25">P</text>
<text transform="translate(526.1 467) rotate(-30) scale(1.0800 1)" font-size="14" font-weight="bold" text-anchor="end" stroke="#000" stroke-width="0.25">PS</text>
<text transform="translate(572.9 467) rotate(-30) scale(1.0800 1)" font-size="14" font-weight="bold" text-anchor="end" stroke="#000" stroke-width="0.25">PSN</text>
<text transform="translate(619.7 467) rotate(-30) scale(1.0800 1)" font-size="14" font-weight="bold" text-anchor="end" stroke="#000" stroke-width="0.25">PSNS</text>
<text transform="translate(666.5 467) rotate(-30) scale(1.0800 1)" font-size="14" font-weight="bold" text-anchor="end" stroke="#000" stroke-width="0.25">PSNSN</text>
<text transform="translate(375.63 263.67) scale(1.0139 1)" font-size="30.99" font-weight="bold" stroke="#000" stroke-width="0.25">(d)</text>
<text transform="translate(411.2 444.69) rotate(-90) scale(0.8868 1)" font-size="16.58" font-weight="bold" stroke="#000" stroke-width="0.25">Membrane force (GPaÅ)</text>
<rect x="100" y="677.3" width="71.6" height="56" fill="#000"/>
<rect x="218.1" y="595.1" width="71.5" height="138.2" fill="#ff1e0e" stroke="#400" stroke-width="0.5"/>
<line x1="136" y1="671.4" x2="136" y2="677.3" stroke="#9a9aff" stroke-width="1.3"/>
<line x1="134" y1="671.4" x2="138" y2="671.4" stroke="#9a9aff" stroke-width="1.3"/>
<line x1="136" y1="677.3" x2="136" y2="683.7" stroke="#1c1c90" stroke-width="1.3"/>
<line x1="134" y1="683.7" x2="138" y2="683.7" stroke="#1515c8" stroke-width="1.3"/>
<line x1="253.6" y1="589.5" x2="253.6" y2="595.1" stroke="#9a9aff" stroke-width="1.3"/>
<line x1="251.6" y1="589.5" x2="255.6" y2="589.5" stroke="#9a9aff" stroke-width="1.3"/>
<line x1="253.6" y1="595.1" x2="253.6" y2="601.5" stroke="#8010a0" stroke-width="1.3"/>
<line x1="251.6" y1="601.5" x2="255.6" y2="601.5" stroke="#7a10b0" stroke-width="1.3"/>
<rect x="77.2" y="553.3" width="235.6" height="180" fill="none" stroke="#4a4a4a" stroke-width="1"/>
<line x1="77.2" y1="553.3" x2="80.7" y2="553.3" stroke="#4a4a4a" stroke-width="0.8"/>
<line x1="77.2" y1="595.24" x2="79.1" y2="595.24" stroke="#4a4a4a" stroke-width="0.8"/>
<line x1="77.2" y1="584.67" x2="79.1" y2="584.67" stroke="#4a4a4a" stroke-width="0.8"/>
<line x1="77.2" y1="577.18" x2="79.1" y2="577.18" stroke="#4a4a4a" stroke-width="0.8"/>
<line x1="77.2" y1="571.36" x2="79.1" y2="571.36" stroke="#4a4a4a" stroke-width="0.8"/>
<line x1="77.2" y1="566.61" x2="79.1" y2="566.61" stroke="#4a4a4a" stroke-width="0.8"/>
<line x1="77.2" y1="562.59" x2="79.1" y2="562.59" stroke="#4a4a4a" stroke-width="0.8"/>
<line x1="77.2" y1="559.11" x2="79.1" y2="559.11" stroke="#4a4a4a" stroke-width="0.8"/>
<line x1="77.2" y1="556.05" x2="79.1" y2="556.05" stroke="#4a4a4a" stroke-width="0.8"/>
<line x1="77.2" y1="613.3" x2="80.7" y2="613.3" stroke="#4a4a4a" stroke-width="0.8"/>
<line x1="77.2" y1="655.24" x2="79.1" y2="655.24" stroke="#4a4a4a" stroke-width="0.8"/>
<line x1="77.2" y1="644.67" x2="79.1" y2="644.67" stroke="#4a4a4a" stroke-width="0.8"/>
<line x1="77.2" y1="637.18" x2="79.1" y2="637.18" stroke="#4a4a4a" stroke-width="0.8"/>
<line x1="77.2" y1="631.36" x2="79.1" y2="631.36" stroke="#4a4a4a" stroke-width="0.8"/>
<line x1="77.2" y1="626.61" x2="79.1" y2="626.61" stroke="#4a4a4a" stroke-width="0.8"/>
<line x1="77.2" y1="622.59" x2="79.1" y2="622.59" stroke="#4a4a4a" stroke-width="0.8"/>
<line x1="77.2" y1="619.11" x2="79.1" y2="619.11" stroke="#4a4a4a" stroke-width="0.8"/>
<line x1="77.2" y1="616.05" x2="79.1" y2="616.05" stroke="#4a4a4a" stroke-width="0.8"/>
<line x1="77.2" y1="673.3" x2="80.7" y2="673.3" stroke="#4a4a4a" stroke-width="0.8"/>
<line x1="77.2" y1="715.24" x2="79.1" y2="715.24" stroke="#4a4a4a" stroke-width="0.8"/>
<line x1="77.2" y1="704.67" x2="79.1" y2="704.67" stroke="#4a4a4a" stroke-width="0.8"/>
<line x1="77.2" y1="697.18" x2="79.1" y2="697.18" stroke="#4a4a4a" stroke-width="0.8"/>
<line x1="77.2" y1="691.36" x2="79.1" y2="691.36" stroke="#4a4a4a" stroke-width="0.8"/>
<line x1="77.2" y1="686.61" x2="79.1" y2="686.61" stroke="#4a4a4a" stroke-width="0.8"/>
<line x1="77.2" y1="682.59" x2="79.1" y2="682.59" stroke="#4a4a4a" stroke-width="0.8"/>
<line x1="77.2" y1="679.11" x2="79.1" y2="679.11" stroke="#4a4a4a" stroke-width="0.8"/>
<line x1="77.2" y1="676.05" x2="79.1" y2="676.05" stroke="#4a4a4a" stroke-width="0.8"/>
<line x1="77.2" y1="733.3" x2="80.7" y2="733.3" stroke="#4a4a4a" stroke-width="0.8"/>
<line x1="136" y1="733.3" x2="136" y2="730.3" stroke="#4a4a4a" stroke-width="0.8"/>
<line x1="195" y1="733.3" x2="195" y2="730.3" stroke="#4a4a4a" stroke-width="0.8"/>
<line x1="254" y1="733.3" x2="254" y2="730.3" stroke="#a01010" stroke-width="0.8"/>
<text transform="translate(101.76 642.87) scale(1.0334 1)" font-size="13.14" font-weight="bold" stroke="#000" stroke-width="0.25">8.76E-06</text>
<text transform="translate(162.68 643) scale(1.0348 1)" font-size="13.65" font-weight="bold" stroke="#000" stroke-width="0.25">±</text>
<text transform="translate(101.85 659.33)" font-size="13.66" font-weight="bold" stroke="#000" stroke-width="0.25">1.93E-06</text>
<text transform="translate(214.72 568.23) scale(1.0306 1)" font-size="13.38" font-weight="bold" stroke="#000" stroke-width="0.25">2.03E-04</text>
<text transform="translate(275.48 568.4) scale(1.0371 1)" font-size="13.82" font-weight="bold" stroke="#000" stroke-width="0.25">±</text>
<text transform="translate(214.99 584.44) scale(1.0649 1)" font-size="12.96" font-weight="bold" stroke="#000" stroke-width="0.25">4.37E-05</text>
<text transform="translate(105.46 751.21) scale(0.9830 1)" font-size="18.66" font-weight="bold" stroke="#000" stroke-width="0.25">NSNSP</text>
<text transform="translate(223.05 751.21) scale(0.9706 1)" font-size="18.66" font-weight="bold" stroke="#000" stroke-width="0.25">ASASP</text>
<text transform="translate(44.02 558.26) scale(1.2468 1)" font-size="13.85" font-weight="bold" stroke="#000" stroke-width="0.25">10</text>
<text transform="translate(62.94 552.69) scale(1.2503 1)" font-size="9.15" font-weight="bold" stroke="#000" stroke-width="0.25">-3</text>
<text transform="translate(44.02 618.26) scale(1.2468 1)" font-size="13.85" font-weight="bold" stroke="#000" stroke-width="0.25">10</text>
<text transform="translate(62.96 612.8) scale(1.1675 1)" font-size="9.45" font-weight="bold" stroke="#000" stroke-width="0.25">-4</text>
<text transform="translate(44.02 678.26) scale(1.2468 1)" font-size="13.85" font-weight="bold" stroke="#000" stroke-width="0.25">10</text>
<text transform="translate(62.95 672.71) scale(1.2170 1)" font-size="9.32" font-weight="bold" stroke="#000" stroke-width="0.25">-5</text>
<text transform="translate(44.02 738.26) scale(1.2468 1)" font-size="13.85" font-weight="bold" stroke="#000" stroke-width="0.25">10</text>
<text transform="translate(62.94 732.71) scale(1.2459 1)" font-size="9.19" font-weight="bold" stroke="#000" stroke-width="0.25">-6</text>
<text transform="translate(1.01 544.68) scale(1.0094 1)" font-size="31.42" font-weight="bold" stroke="#000" stroke-width="0.25">(e)</text>
<text transform="translate(39.6 724.5) rotate(-90) scale(0.9710 1)" font-size="21.67" font-weight="bold" stroke="#000" stroke-width="0.6"><tspan>WVTR</tspan></text>
<text transform="translate(39.6 660.83) rotate(-90) scale(0.9479 1)" font-size="21.67" font-weight="bold" stroke="#000" stroke-width="0.6">(g/m<tspan font-size="80%" dy="-9.10">2</tspan><tspan dy="9.10">/day)</tspan></text>
<rect x="452" y="643.8" width="20" height="88.6" fill="#000"/>
<rect x="472" y="690.4" width="18.5" height="42" fill="#ff1e0e" stroke="#400" stroke-width="0.5"/>
<rect x="499.3" y="638.2" width="19.3" height="94.2" fill="#000"/>
<rect x="518.6" y="688" width="18.6" height="44.4" fill="#ff1e0e" stroke="#400" stroke-width="0.5"/>
<rect x="546.6" y="616.8" width="19.3" height="115.6" fill="#000"/>
<rect x="565.9" y="678.1" width="18.6" height="54.3" fill="#ff1e0e" stroke="#400" stroke-width="0.5"/>
<rect x="593.9" y="608.8" width="19.3" height="123.6" fill="#000"/>
<rect x="613.2" y="666.6" width="18.2" height="65.8" fill="#ff1e0e" stroke="#400" stroke-width="0.5"/>
<rect x="641.2" y="587" width="18.6" height="145.4" fill="#000"/>
<rect x="659.8" y="663.1" width="18.6" height="69.3" fill="#ff1e0e" stroke="#400" stroke-width="0.5"/>
<line x1="461.5" y1="638.6" x2="461.5" y2="650.1" stroke="#2020e8" stroke-width="1.2"/>
<line x1="459.2" y1="638.6" x2="463.8" y2="638.6" stroke="#2020e8" stroke-width="1.2"/>
<line x1="459.2" y1="650.1" x2="463.8" y2="650.1" stroke="#2020e8" stroke-width="1.2"/>
<line x1="508.8" y1="633.3" x2="508.8" y2="644.2" stroke="#2020e8" stroke-width="1.2"/>
<line x1="506.5" y1="633.3" x2="511.1" y2="633.3" stroke="#2020e8" stroke-width="1.2"/>
<line x1="506.5" y1="644.2" x2="511.1" y2="644.2" stroke="#2020e8" stroke-width="1.2"/>
<line x1="556" y1="612.3" x2="556" y2="622.8" stroke="#2020e8" stroke-width="1.2"/>
<line x1="553.7" y1="612.3" x2="558.3" y2="612.3" stroke="#2020e8" stroke-width="1.2"/>
<line x1="553.7" y1="622.8" x2="558.3" y2="622.8" stroke="#2020e8" stroke-width="1.2"/>
<line x1="603.4" y1="606.3" x2="603.4" y2="610.9" stroke="#2020e8" stroke-width="1.2"/>
<line x1="601.1" y1="606.3" x2="605.7" y2="606.3" stroke="#2020e8" stroke-width="1.2"/>
<line x1="601.1" y1="610.9" x2="605.7" y2="610.9" stroke="#2020e8" stroke-width="1.2"/>
<line x1="650.7" y1="582.4" x2="650.7" y2="593.8" stroke="#2020e8" stroke-width="1.2"/>
<line x1="648.4" y1="582.4" x2="653" y2="582.4" stroke="#2020e8" stroke-width="1.2"/>
<line x1="648.4" y1="593.8" x2="653" y2="593.8" stroke="#2020e8" stroke-width="1.2"/>
<line x1="480" y1="687.6" x2="480" y2="693.2" stroke="#2020e8" stroke-width="1.2"/>
<line x1="477.7" y1="687.6" x2="482.3" y2="687.6" stroke="#2020e8" stroke-width="1.2"/>
<line x1="477.7" y1="693.2" x2="482.3" y2="693.2" stroke="#2020e8" stroke-width="1.2"/>
<line x1="528" y1="687.3" x2="528" y2="688.7" stroke="#2020e8" stroke-width="1.2"/>
<line x1="525.7" y1="687.3" x2="530.3" y2="687.3" stroke="#2020e8" stroke-width="1.2"/>
<line x1="525.7" y1="688.7" x2="530.3" y2="688.7" stroke="#2020e8" stroke-width="1.2"/>
<line x1="574.6" y1="675.3" x2="574.6" y2="682" stroke="#2020e8" stroke-width="1.2"/>
<line x1="572.3" y1="675.3" x2="576.9" y2="675.3" stroke="#2020e8" stroke-width="1.2"/>
<line x1="572.3" y1="682" x2="576.9" y2="682" stroke="#2020e8" stroke-width="1.2"/>
<line x1="622" y1="664.1" x2="622" y2="669.4" stroke="#2020e8" stroke-width="1.2"/>
<line x1="619.7" y1="664.1" x2="624.3" y2="664.1" stroke="#2020e8" stroke-width="1.2"/>
<line x1="619.7" y1="669.4" x2="624.3" y2="669.4" stroke="#2020e8" stroke-width="1.2"/>
<line x1="669.2" y1="660.6" x2="669.2" y2="666.9" stroke="#2020e8" stroke-width="1.2"/>
<line x1="666.9" y1="660.6" x2="671.5" y2="660.6" stroke="#2020e8" stroke-width="1.2"/>
<line x1="666.9" y1="666.9" x2="671.5" y2="666.9" stroke="#2020e8" stroke-width="1.2"/>
<rect x="447.6" y="552.4" width="235.9" height="180" fill="none" stroke="#4a4a4a" stroke-width="1"/>
<line x1="447.6" y1="552.4" x2="451.1" y2="552.4" stroke="#4a4a4a" stroke-width="0.8"/>
<line x1="447.6" y1="583.85" x2="449.5" y2="583.85" stroke="#4a4a4a" stroke-width="0.8"/>
<line x1="447.6" y1="575.93" x2="449.5" y2="575.93" stroke="#4a4a4a" stroke-width="0.8"/>
<line x1="447.6" y1="570.31" x2="449.5" y2="570.31" stroke="#4a4a4a" stroke-width="0.8"/>
<line x1="447.6" y1="565.95" x2="449.5" y2="565.95" stroke="#4a4a4a" stroke-width="0.8"/>
<line x1="447.6" y1="562.38" x2="449.5" y2="562.38" stroke="#4a4a4a" stroke-width="0.8"/>
<line x1="447.6" y1="559.37" x2="449.5" y2="559.37" stroke="#4a4a4a" stroke-width="0.8"/>
<line x1="447.6" y1="556.76" x2="449.5" y2="556.76" stroke="#4a4a4a" stroke-width="0.8"/>
<line x1="447.6" y1="554.46" x2="449.5" y2="554.46" stroke="#4a4a4a" stroke-width="0.8"/>
<line x1="447.6" y1="597.4" x2="451.1" y2="597.4" stroke="#4a4a4a" stroke-width="0.8"/>
<line x1="447.6" y1="628.85" x2="449.5" y2="628.85" stroke="#4a4a4a" stroke-width="0.8"/>
<line x1="447.6" y1="620.93" x2="449.5" y2="620.93" stroke="#4a4a4a" stroke-width="0.8"/>
<line x1="447.6" y1="615.31" x2="449.5" y2="615.31" stroke="#4a4a4a" stroke-width="0.8"/>
<line x1="447.6" y1="610.95" x2="449.5" y2="610.95" stroke="#4a4a4a" stroke-width="0.8"/>
<line x1="447.6" y1="607.38" x2="449.5" y2="607.38" stroke="#4a4a4a" stroke-width="0.8"/>
<line x1="447.6" y1="604.37" x2="449.5" y2="604.37" stroke="#4a4a4a" stroke-width="0.8"/>
<line x1="447.6" y1="601.76" x2="449.5" y2="601.76" stroke="#4a4a4a" stroke-width="0.8"/>
<line x1="447.6" y1="599.46" x2="449.5" y2="599.46" stroke="#4a4a4a" stroke-width="0.8"/>
<line x1="447.6" y1="642.4" x2="451.1" y2="642.4" stroke="#4a4a4a" stroke-width="0.8"/>
<line x1="447.6" y1="673.85" x2="449.5" y2="673.85" stroke="#4a4a4a" stroke-width="0.8"/>
<line x1="447.6" y1="665.93" x2="449.5" y2="665.93" stroke="#4a4a4a" stroke-width="0.8"/>
<line x1="447.6" y1="660.31" x2="449.5" y2="660.31" stroke="#4a4a4a" stroke-width="0.8"/>
<line x1="447.6" y1="655.95" x2="449.5" y2="655.95" stroke="#4a4a4a" stroke-width="0.8"/>
<line x1="447.6" y1="652.38" x2="449.5" y2="652.38" stroke="#4a4a4a" stroke-width="0.8"/>
<line x1="447.6" y1="649.37" x2="449.5" y2="649.37" stroke="#4a4a4a" stroke-width="0.8"/>
<line x1="447.6" y1="646.76" x2="449.5" y2="646.76" stroke="#4a4a4a" stroke-width="0.8"/>
<line x1="447.6" y1="644.46" x2="449.5" y2="644.46" stroke="#4a4a4a" stroke-width="0.8"/>
<line x1="447.6" y1="687.4" x2="451.1" y2="687.4" stroke="#4a4a4a" stroke-width="0.8"/>
<line x1="447.6" y1="718.85" x2="449.5" y2="718.85" stroke="#4a4a4a" stroke-width="0.8"/>
<line x1="447.6" y1="710.93" x2="449.5" y2="710.93" stroke="#4a4a4a" stroke-width="0.8"/>
<line x1="447.6" y1="705.31" x2="449.5" y2="705.31" stroke="#4a4a4a" stroke-width="0.8"/>
<line x1="447.6" y1="700.95" x2="449.5" y2="700.95" stroke="#4a4a4a" stroke-width="0.8"/>
<line x1="447.6" y1="697.38" x2="449.5" y2="697.38" stroke="#4a4a4a" stroke-width="0.8"/>
<line x1="447.6" y1="694.37" x2="449.5" y2="694.37" stroke="#4a4a4a" stroke-width="0.8"/>
<line x1="447.6" y1="691.76" x2="449.5" y2="691.76" stroke="#4a4a4a" stroke-width="0.8"/>
<line x1="447.6" y1="689.46" x2="449.5" y2="689.46" stroke="#4a4a4a" stroke-width="0.8"/>
<line x1="447.6" y1="732.4" x2="451.1" y2="732.4" stroke="#4a4a4a" stroke-width="0.8"/>
<line x1="683.5" y1="552.4" x2="680" y2="552.4" stroke="#4a4a4a" stroke-width="0.8"/>
<line x1="683.5" y1="583.85" x2="681.6" y2="583.85" stroke="#4a4a4a" stroke-width="0.8"/>
<line x1="683.5" y1="575.93" x2="681.6" y2="575.93" stroke="#4a4a4a" stroke-width="0.8"/>
<line x1="683.5" y1="570.31" x2="681.6" y2="570.31" stroke="#4a4a4a" stroke-width="0.8"/>
<line x1="683.5" y1="565.95" x2="681.6" y2="565.95" stroke="#4a4a4a" stroke-width="0.8"/>
<line x1="683.5" y1="562.38" x2="681.6" y2="562.38" stroke="#4a4a4a" stroke-width="0.8"/>
<line x1="683.5" y1="559.37" x2="681.6" y2="559.37" stroke="#4a4a4a" stroke-width="0.8"/>
<line x1="683.5" y1="556.76" x2="681.6" y2="556.76" stroke="#4a4a4a" stroke-width="0.8"/>
<line x1="683.5" y1="554.46" x2="681.6" y2="554.46" stroke="#4a4a4a" stroke-width="0.8"/>
<line x1="683.5" y1="597.4" x2="680" y2="597.4" stroke="#4a4a4a" stroke-width="0.8"/>
<line x1="683.5" y1="628.85" x2="681.6" y2="628.85" stroke="#4a4a4a" stroke-width="0.8"/>
<line x1="683.5" y1="620.93" x2="681.6" y2="620.93" stroke="#4a4a4a" stroke-width="0.8"/>
<line x1="683.5" y1="615.31" x2="681.6" y2="615.31" stroke="#4a4a4a" stroke-width="0.8"/>
<line x1="683.5" y1="610.95" x2="681.6" y2="610.95" stroke="#4a4a4a" stroke-width="0.8"/>
<line x1="683.5" y1="607.38" x2="681.6" y2="607.38" stroke="#4a4a4a" stroke-width="0.8"/>
<line x1="683.5" y1="604.37" x2="681.6" y2="604.37" stroke="#4a4a4a" stroke-width="0.8"/>
<line x1="683.5" y1="601.76" x2="681.6" y2="601.76" stroke="#4a4a4a" stroke-width="0.8"/>
<line x1="683.5" y1="599.46" x2="681.6" y2="599.46" stroke="#4a4a4a" stroke-width="0.8"/>
<line x1="683.5" y1="642.4" x2="680" y2="642.4" stroke="#4a4a4a" stroke-width="0.8"/>
<line x1="683.5" y1="673.85" x2="681.6" y2="673.85" stroke="#4a4a4a" stroke-width="0.8"/>
<line x1="683.5" y1="665.93" x2="681.6" y2="665.93" stroke="#4a4a4a" stroke-width="0.8"/>
<line x1="683.5" y1="660.31" x2="681.6" y2="660.31" stroke="#4a4a4a" stroke-width="0.8"/>
<line x1="683.5" y1="655.95" x2="681.6" y2="655.95" stroke="#4a4a4a" stroke-width="0.8"/>
<line x1="683.5" y1="652.38" x2="681.6" y2="652.38" stroke="#4a4a4a" stroke-width="0.8"/>
<line x1="683.5" y1="649.37" x2="681.6" y2="649.37" stroke="#4a4a4a" stroke-width="0.8"/>
<line x1="683.5" y1="646.76" x2="681.6" y2="646.76" stroke="#4a4a4a" stroke-width="0.8"/>
<line x1="683.5" y1="644.46" x2="681.6" y2="644.46" stroke="#4a4a4a" stroke-width="0.8"/>
<line x1="683.5" y1="687.4" x2="680" y2="687.4" stroke="#4a4a4a" stroke-width="0.8"/>
<line x1="683.5" y1="718.85" x2="681.6" y2="718.85" stroke="#4a4a4a" stroke-width="0.8"/>
<line x1="683.5" y1="710.93" x2="681.6" y2="710.93" stroke="#4a4a4a" stroke-width="0.8"/>
<line x1="683.5" y1="705.31" x2="681.6" y2="705.31" stroke="#4a4a4a" stroke-width="0.8"/>
<line x1="683.5" y1="700.95" x2="681.6" y2="700.95" stroke="#4a4a4a" stroke-width="0.8"/>
<line x1="683.5" y1="697.38" x2="681.6" y2="697.38" stroke="#4a4a4a" stroke-width="0.8"/>
<line x1="683.5" y1="694.37" x2="681.6" y2="694.37" stroke="#4a4a4a" stroke-width="0.8"/>
<line x1="683.5" y1="691.76" x2="681.6" y2="691.76" stroke="#4a4a4a" stroke-width="0.8"/>
<line x1="683.5" y1="689.46" x2="681.6" y2="689.46" stroke="#4a4a4a" stroke-width="0.8"/>
<line x1="683.5" y1="732.4" x2="680" y2="732.4" stroke="#4a4a4a" stroke-width="0.8"/>
<line x1="472" y1="732.4" x2="472" y2="729.4" stroke="#4a4a4a" stroke-width="0.8"/>
<line x1="472" y1="552.4" x2="472" y2="555.4" stroke="#4a4a4a" stroke-width="0.8"/>
<line x1="495.6" y1="732.4" x2="495.6" y2="730.4" stroke="#4a4a4a" stroke-width="0.8"/>
<line x1="495.6" y1="552.4" x2="495.6" y2="554.4" stroke="#4a4a4a" stroke-width="0.8"/>
<line x1="519.2" y1="732.4" x2="519.2" y2="729.4" stroke="#4a4a4a" stroke-width="0.8"/>
<line x1="519.2" y1="552.4" x2="519.2" y2="555.4" stroke="#4a4a4a" stroke-width="0.8"/>
<line x1="542.8" y1="732.4" x2="542.8" y2="730.4" stroke="#4a4a4a" stroke-width="0.8"/>
<line x1="542.8" y1="552.4" x2="542.8" y2="554.4" stroke="#4a4a4a" stroke-width="0.8"/>
<line x1="566.4" y1="732.4" x2="566.4" y2="729.4" stroke="#4a4a4a" stroke-width="0.8"/>
<line x1="566.4" y1="552.4" x2="566.4" y2="555.4" stroke="#4a4a4a" stroke-width="0.8"/>
<line x1="590" y1="732.4" x2="590" y2="730.4" stroke="#4a4a4a" stroke-width="0.8"/>
<line x1="590" y1="552.4" x2="590" y2="554.4" stroke="#4a4a4a" stroke-width="0.8"/>
<line x1="613.6" y1="732.4" x2="613.6" y2="729.4" stroke="#4a4a4a" stroke-width="0.8"/>
<line x1="613.6" y1="552.4" x2="613.6" y2="555.4" stroke="#4a4a4a" stroke-width="0.8"/>
<line x1="637.2" y1="732.4" x2="637.2" y2="730.4" stroke="#4a4a4a" stroke-width="0.8"/>
<line x1="637.2" y1="552.4" x2="637.2" y2="554.4" stroke="#4a4a4a" stroke-width="0.8"/>
<line x1="660.8" y1="732.4" x2="660.8" y2="729.4" stroke="#4a4a4a" stroke-width="0.8"/>
<line x1="660.8" y1="552.4" x2="660.8" y2="555.4" stroke="#4a4a4a" stroke-width="0.8"/>
<rect x="453.9" y="558.9" width="30.7" height="14.1" fill="#000" stroke="#777" stroke-width="0.5"/>
<rect x="453.9" y="575.1" width="30.7" height="14.5" fill="#ff1e0e" stroke="#777" stroke-width="0.5"/>
<text transform="translate(488.97 571.27) scale(1.0650 1)" font-size="12.79">AT nanolaminate</text>
<text transform="translate(487.87 586.58) scale(1.1130 1)" font-size="12.3">NSNSP</text>
<line x1="467.8" y1="635" x2="639.95" y2="574.94" stroke="#55b8ea" stroke-width="3"/>
<polygon points="647.5,572.3 640.4,579.2 637.6,571.3" fill="#55b8ea"/>
<line x1="480.4" y1="705.2" x2="662.24" y2="687.19" stroke="#55b8ea" stroke-width="3"/>
<polygon points="670.2,686.4 661.7,691.5 660.8,683.1" fill="#55b8ea"/>
<text transform="translate(531.8 606) rotate(-15)" font-size="19.2" fill="#3c7cc8" stroke="#3c7cc8" stroke-width="0.7">×18.3</text>
<text transform="translate(559.86 715.8) scale(0.9577 1)" font-size="19.93" fill="#3c7cc8" stroke="#3c7cc8" stroke-width="0.5">×3.97</text>
<text transform="translate(461.4 750.8) scale(1.0400 1)" font-size="16.97" font-weight="bold" stroke="#000" stroke-width="0.25">0h</text>
<text transform="translate(508.09 750.8) scale(1.0400 1)" font-size="16.97" font-weight="bold" stroke="#000" stroke-width="0.25">5h</text>
<text transform="translate(550.18 750.8) scale(1.0400 1)" font-size="16.97" font-weight="bold" stroke="#000" stroke-width="0.25">10h</text>
<text transform="translate(597.48 750.8) scale(1.0400 1)" font-size="16.97" font-weight="bold" stroke="#000" stroke-width="0.25">15h</text>
<text transform="translate(644.32 750.8) scale(1.0400 1)" font-size="16.97" font-weight="bold" stroke="#000" stroke-width="0.25">20h</text>
<text transform="translate(486.13 766.63) scale(1.0641 1)" font-size="17.69" font-weight="bold" stroke="#000" stroke-width="0.25">Exposure time (h)</text>
<text transform="translate(419.24 557.66) scale(1.0102 1)" font-size="13.99">10</text>
<text transform="translate(434.87 552) scale(1.0789 1)" font-size="8.89">-2</text>
<text transform="translate(419.24 602.66) scale(1.0102 1)" font-size="13.99">10</text>
<text transform="translate(434.87 596.91) scale(1.0841 1)" font-size="8.76">-3</text>
<text transform="translate(419.24 647.66) scale(1.0102 1)" font-size="13.99">10</text>
<text transform="translate(434.88 642) scale(1.0340 1)" font-size="9.02">-4</text>
<text transform="translate(419.24 692.66) scale(1.0102 1)" font-size="13.99">10</text>
<text transform="translate(434.87 686.91) scale(1.0654 1)" font-size="8.89">-5</text>
<text transform="translate(419.24 737.66) scale(1.0102 1)" font-size="13.99">10</text>
<text transform="translate(434.87 731.91) scale(1.0841 1)" font-size="8.76">-6</text>
<text transform="translate(377.87 544.46) scale(1.0645 1)" font-size="30.56" font-weight="bold" stroke="#000" stroke-width="0.25">(f)</text>
<text transform="translate(412.2 724.2) rotate(-90) scale(0.9760 1)" font-size="20.8" font-weight="bold" stroke="#000" stroke-width="0.25">WVTR (g/m<tspan font-size="70%" dy="-7.90">2</tspan><tspan dy="7.90">/day)</tspan></text>
</svg></body></html>
